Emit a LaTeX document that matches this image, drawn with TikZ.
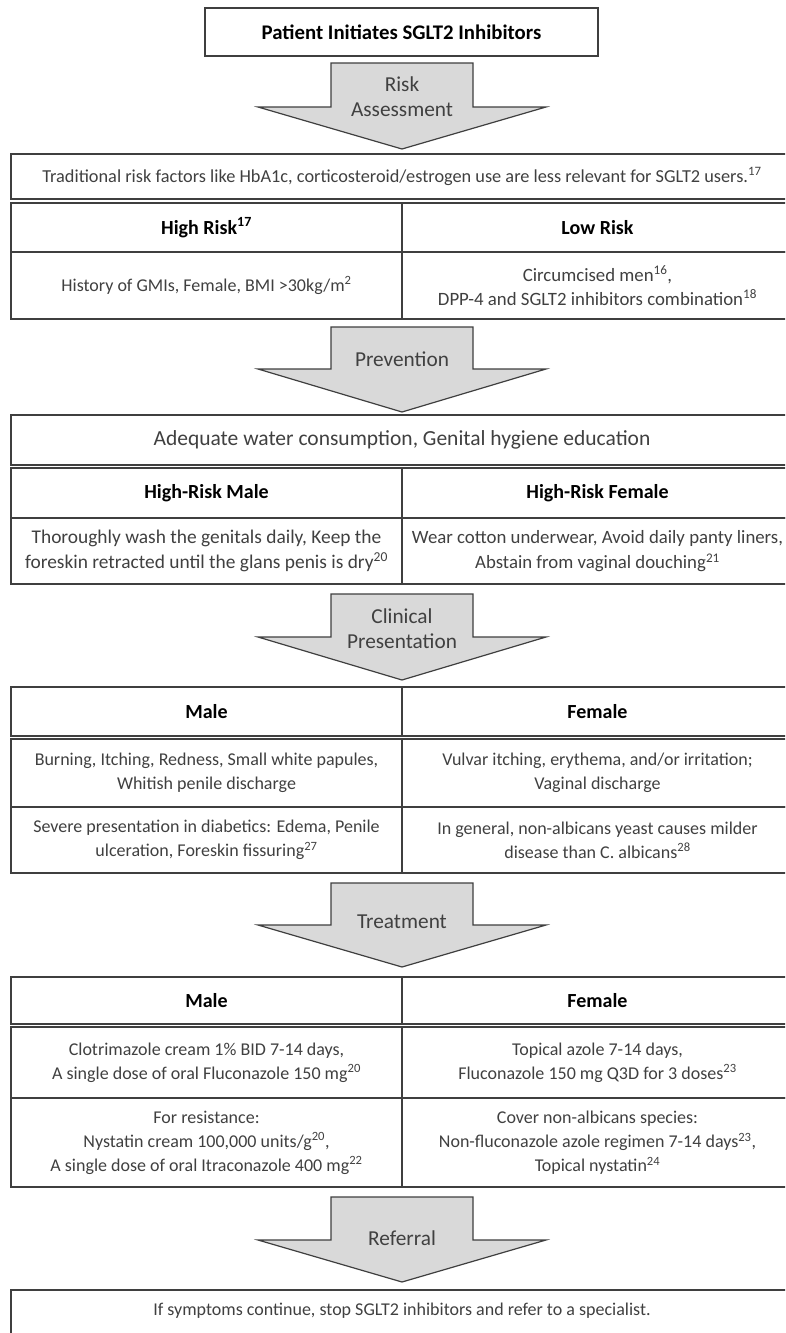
\documentclass[tikz,border=0pt]{standalone}
\usepackage{fontspec}
\setmainfont{Carlito}
\definecolor{linegray}{HTML}{3F3F3F}
\definecolor{textgray}{HTML}{404040}
\definecolor{arrowfill}{HTML}{D9D9D9}
\newcommand\sgltarrow[3]{%
  \draw[arrowshape] (331,#1) -- (473,#1) -- (473,#2) -- (546,#2) -- (402,#3) -- (258,#2) -- (331,#2) -- cycle;}
\begin{document}
\begin{tikzpicture}[x=1pt,y=-1pt,
  frame/.style={draw=linegray, line width=1.3pt, inner sep=0pt, align=center},
  cellL/.style={frame, minimum width=391pt},
  body/.style={text=textgray, font=\fontsize{18}{24}\selectfont},
  bodymid/.style={text=textgray, font=\fontsize{19.4}{25}\selectfont},
  bodybig/.style={text=textgray, font=\fontsize{21.5}{25}\selectfont},
  bodysmall/.style={text=textgray, font=\fontsize{18.3}{22}\selectfont},
  head/.style={text=black, font=\bfseries\fontsize{20}{24}\selectfont},
  arrowshape/.style={fill=arrowfill, draw=linegray, line width=1.2pt},
  arrowlbl/.style={text=textgray, font=\fontsize{21.3}{25}\selectfont, align=center, inner sep=0pt}
]
\useasboundingbox (0,0) rectangle (785,1333);
\clip (0,0) rectangle (785,1333);
\fill[white] (0,0) rectangle (785,1333);

% start
\node[frame, minimum width=393pt, minimum height=48pt, text=black, font=\bfseries\fontsize{20.8}{24}\selectfont] (start) at (401.5,32) {Patient Initiates SGLT2 Inhibitors};

% Risk assessment
\sgltarrow{63}{107}{149}
\node[arrowlbl] (riskarrow) at (402,97) {Risk\\Assessment};
\node[frame, minimum width=782pt, minimum height=45pt, bodysmall] (trad) at (402,176.5)
  {Traditional risk factors like HbA1c, corticosteroid/estrogen use are less relevant for SGLT2 users.\textsuperscript{17}};
\node[cellL, minimum height=49pt, head] (hrh) at (206.5,227.5) {High Risk\textsuperscript{17}};
\node[cellL, minimum height=49pt, head] (lrh) at (597.5,227.5) {Low Risk};
\node[cellL, minimum height=67pt, body] (hrb) at (206.5,285.5) {History of GMIs, Female, BMI >30kg/m\textsuperscript{2}};
\node[cellL, minimum height=67pt, text=textgray, font=\fontsize{18.8}{24}\selectfont] (lrb) at (597.5,285.5) {Circumcised men\textsuperscript{16},\\DPP-4 and SGLT2 inhibitors combination\textsuperscript{18}};

% Prevention
\sgltarrow{327}{369}{412}
\node[arrowlbl] (prevarrow) at (402,359) {Prevention};
\node[frame, minimum width=782pt, minimum height=50pt, bodybig] (prev) at (402,440)
  {Adequate water consumption, Genital hygiene education};
\node[cellL, minimum height=50pt, head] (hmh) at (206.5,493) {High-Risk Male};
\node[cellL, minimum height=50pt, head] (hfh) at (597.5,493) {High-Risk Female};
\node[cellL, minimum height=66pt, bodymid] (hmb) at (206.5,551) {Thoroughly wash the genitals daily, Keep the\\foreskin retracted until the glans penis is dry\textsuperscript{20}};
\node[cellL, minimum height=66pt, text=textgray, font=\fontsize{18.8}{25}\selectfont] (hfb) at (597.5,551) {Wear cotton underwear, Avoid daily panty liners,\\Abstain from vaginal douching\textsuperscript{21}};

% Clinical presentation
\sgltarrow{594}{637}{680}
\node[arrowlbl] (clinarrow) at (402,628.5) {Clinical\\Presentation};
\node[cellL, minimum height=49pt, head] (cmh) at (206.5,711.5) {Male};
\node[cellL, minimum height=49pt, head] (cfh) at (597.5,711.5) {Female};
\node[cellL, minimum height=68pt, body] (cm1) at (206.5,773) {Burning, Itching, Redness, Small white papules,\\Whitish penile discharge};
\node[cellL, minimum height=68pt, body] (cf1) at (597.5,773) {Vulvar itching, erythema, and/or irritation;\\Vaginal discharge};
\node[cellL, minimum height=66pt, body] (cm2) at (206.5,840) {Severe presentation in diabetics: Edema, Penile\\ulceration, Foreskin fissuring\textsuperscript{27}};
\node[cellL, minimum height=66pt, body] (cf2) at (597.5,840) {In general, non-albicans yeast causes milder\\disease than C. albicans\textsuperscript{28}};

% Treatment
\sgltarrow{883}{925}{967}
\node[arrowlbl] (treatarrow) at (402,922) {Treatment};
\node[cellL, minimum height=47pt, head] (tmh) at (206.5,1000.5) {Male};
\node[cellL, minimum height=47pt, head] (tfh) at (597.5,1000.5) {Female};
\node[cellL, minimum height=71pt, body] (tm1) at (206.5,1062.5) {Clotrimazole cream 1\% BID 7-14 days,\\A single dose of oral Fluconazole 150 mg\textsuperscript{20}};
\node[cellL, minimum height=71pt, body] (tf1) at (597.5,1062.5) {Topical azole 7-14 days,\\Fluconazole 150 mg Q3D for 3 doses\textsuperscript{23}};
\node[cellL, minimum height=89pt, body] (tm2) at (206.5,1142.5) {For resistance:\\Nystatin cream 100,000 units/g\textsuperscript{20},\\A single dose of oral Itraconazole 400 mg\textsuperscript{22}};
\node[cellL, minimum height=89pt, body] (tf2) at (597.5,1142.5) {Cover non-albicans species:\\Non-fluconazole azole regimen 7-14 days\textsuperscript{23},\\Topical nystatin\textsuperscript{24}};

% Referral
\sgltarrow{1197}{1240}{1282}
\node[arrowlbl] (refarrow) at (402,1238) {Referral};
\node[frame, minimum width=782pt, minimum height=50pt] (refbox) at (402,1315) {};
\node[body, inner sep=0pt] (reftext) at (402,1311) {If symptoms continue, stop SGLT2 inhibitors and refer to a specialist.};
\end{tikzpicture}
\end{document}
